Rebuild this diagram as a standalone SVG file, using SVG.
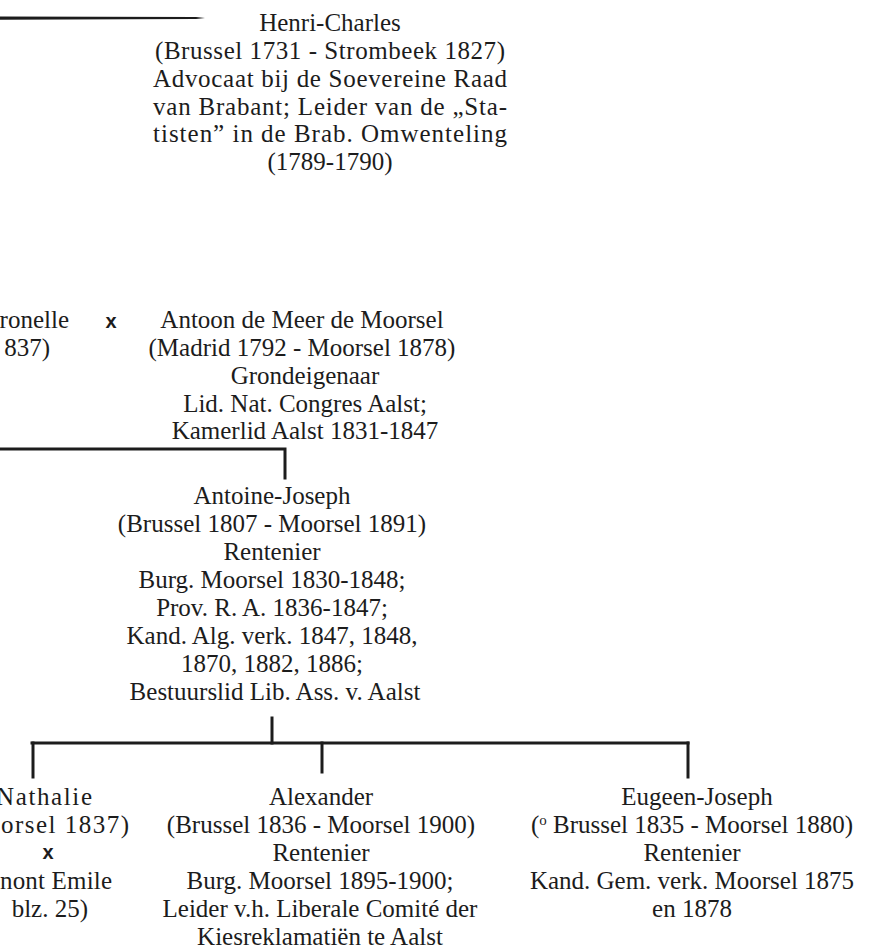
<svg xmlns="http://www.w3.org/2000/svg" width="878" height="950" viewBox="0 0 878 950">
<style>
  .t { font-family: "Liberation Serif", "Times New Roman", serif; font-size: 25px; fill: #1c1c1c; text-anchor: middle; }
  .e { text-anchor: end; }
  .x { font-family: "Liberation Sans", Arial, sans-serif; font-weight: bold; font-size: 20px; fill: #1c1c1c; text-anchor: middle; }
  .ln { stroke: #1c1c1c; stroke-width: 3; fill: none; stroke-linecap: square; }
</style>
<rect width="878" height="950" fill="#ffffff"/>

<g id="connectors">
  <path d="M0,16.5 L196,17 L205,18 L196,19 L0,19.7 Z" fill="#1c1c1c"/>
  <path class="ln" d="M0,449 H285 V478"/>
  <path class="ln" d="M272,718 V743"/>
  <path class="ln" d="M32,743 H688"/>
  <path class="ln" d="M33,743 V777"/>
  <path class="ln" d="M322,743 V772"/>
  <path class="ln" d="M688,743 V777"/>
</g>

<g id="henri-charles">
  <text class="t" x="330" y="31">Henri-Charles</text>
  <text class="t" x="330" y="59" textLength="350" lengthAdjust="spacing">(Brussel 1731 - Strombeek 1827)</text>
  <text class="t" x="330" y="87" textLength="354" lengthAdjust="spacing">Advocaat bij de Soevereine Raad</text>
  <text class="t" x="330" y="115" textLength="354" lengthAdjust="spacing">van Brabant; Leider van de „Sta-</text>
  <text class="t" x="330" y="142" textLength="354" lengthAdjust="spacing">tisten” in de Brab. Omwenteling</text>
  <text class="t" x="330" y="170">(1789-1790)</text>
</g>

<g id="petronelle">
  <text class="t e" x="69" y="328">ronelle</text>
  <text class="t e" x="50" y="356">837)</text>
</g>

<g id="marriage-x">
  <text class="x" x="111" y="328">x</text>
</g>

<g id="antoon">
  <text class="t" x="302" y="328">Antoon de Meer de Moorsel</text>
  <text class="t" x="302" y="356">(Madrid 1792 - Moorsel 1878)</text>
  <text class="t" x="305" y="384">Grondeigenaar</text>
  <text class="t" x="305" y="412">Lid. Nat. Congres Aalst;</text>
  <text class="t" x="305" y="439">Kamerlid Aalst 1831-1847</text>
</g>

<g id="antoine-joseph">
  <text class="t" x="272" y="504">Antoine-Joseph</text>
  <text class="t" x="272" y="532">(Brussel 1807 - Moorsel 1891)</text>
  <text class="t" x="272" y="560">Rentenier</text>
  <text class="t" x="272" y="588">Burg. Moorsel 1830-1848;</text>
  <text class="t" x="272" y="616">Prov. R. A. 1836-1847;</text>
  <text class="t" x="272" y="644">Kand. Alg. verk. 1847, 1848,</text>
  <text class="t" x="272" y="672">1870, 1882, 1886;</text>
  <text class="t" x="275" y="700">Bestuurslid Lib. Ass. v. Aalst</text>
</g>

<g id="nathalie">
  <text class="t e" x="92" y="805" textLength="96" lengthAdjust="spacing">Nathalie</text>
  <text class="t e" x="129" y="833" textLength="128" lengthAdjust="spacing">orsel 1837)</text>
  <text class="x" x="48" y="859">x</text>
  <text class="t e" x="112" y="889" textLength="112" lengthAdjust="spacing">nont Emile</text>
  <text class="t e" x="88" y="917">blz. 25)</text>
</g>

<g id="alexander">
  <text class="t" x="321" y="805">Alexander</text>
  <text class="t" x="321" y="833">(Brussel 1836 - Moorsel 1900)</text>
  <text class="t" x="321" y="861">Rentenier</text>
  <text class="t" x="320" y="889">Burg. Moorsel 1895-1900;</text>
  <text class="t" x="320" y="917">Leider v.h. Liberale Comité der</text>
  <text class="t" x="320" y="945">Kiesreklamatiën te Aalst</text>
</g>

<g id="eugeen-joseph">
  <text class="t" x="697" y="805">Eugeen-Joseph</text>
  <text class="t" x="692" y="833">(<tspan dy="-8" font-size="15">o</tspan><tspan dy="8"> Brussel 1835 - Moorsel 1880)</tspan></text>
  <text class="t" x="692" y="861">Rentenier</text>
  <text class="t" x="692" y="889">Kand. Gem. verk. Moorsel 1875</text>
  <text class="t" x="692" y="917">en 1878</text>
</g>
</svg>
